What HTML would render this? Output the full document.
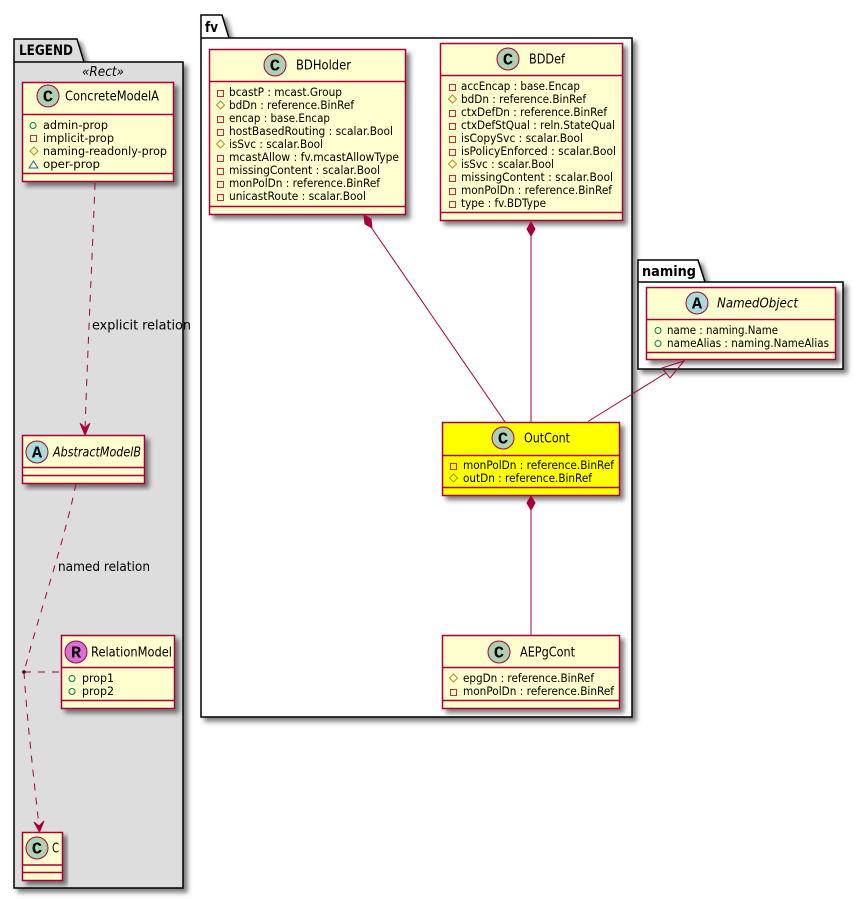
<!DOCTYPE html>
<html><head><meta charset="utf-8"><style>
html,body{margin:0;padding:0;background:#fff}
svg{display:block}
text{font-family:"DejaVu Sans","Liberation Sans",sans-serif;fill:#000}
.m{font-size:11.2px}
.t{font-size:13px}
.l{font-size:13px}
.i{font-style:italic}
.p{font-size:14px;font-weight:bold}
.c{font-size:17px;font-weight:bold;font-family:"Liberation Mono",monospace}
.b{fill:#FEFECE;stroke:#A80036;stroke-width:1.5}
.s{stroke:#A80036;stroke-width:1.5;fill:none}
.k{fill:#fff;stroke:#000;stroke-width:1.5}
.sq{fill:none;stroke:#C82930;stroke-width:1}
.di{fill:none;stroke:#B38D22;stroke-width:1}
.ci{fill:none;stroke:#038048;stroke-width:1}
.tr{fill:none;stroke:#1963A0;stroke-width:1}
.lk{stroke:#A80036;stroke-width:1;fill:none}
.da{stroke-dasharray:7 7}
.ico{stroke:#A80036;stroke-width:1}
</style></head><body>
<svg width="865" height="899" viewBox="0 0 865 899" xmlns="http://www.w3.org/2000/svg">
<defs><filter id="sh" x="-10%" y="-10%" width="125%" height="125%"><feDropShadow dx="4" dy="4" stdDeviation="2.5" flood-color="#000" flood-opacity=".5"/></filter></defs>

<!-- LEGEND package -->
<g filter="url(#sh)"><path d="M14 62V39H77L84 62H183V888H14Z" fill="#DDDDDD" stroke="#000" stroke-width="1.5"/></g>
<path d="M14 62H84" stroke="#000" stroke-width="1.5" fill="none"/>
<text class="p" x="19" y="55" textLength="54" lengthAdjust="spacingAndGlyphs">LEGEND</text>
<text class="t i" x="82" y="76" textLength="42" lengthAdjust="spacingAndGlyphs">«Rect»</text>

<!-- fv package -->
<g filter="url(#sh)"><path d="M201 38V15H222L229 38H632V717H201Z" class="k"/></g>
<path d="M201 38H229" stroke="#000" stroke-width="1.5"/>
<text class="p" x="205" y="32" textLength="13" lengthAdjust="spacingAndGlyphs">fv</text>

<!-- naming package -->
<g filter="url(#sh)"><path d="M638 282V260H698L705 282H843V369H638Z" class="k"/></g>
<path d="M638 282H705" stroke="#000" stroke-width="1.5"/>
<text class="p" x="642" y="276" textLength="54" lengthAdjust="spacingAndGlyphs">naming</text>

<!-- ConcreteModelA -->
<g filter="url(#sh)"><rect class="b" x="22.500" y="82.500" width="151" height="99"/></g>
<path class="s" d="M22 114.500H174M22 173.500H174"/>
<circle cx="48" cy="96" r="11" fill="#ADD1B2" class="ico"/><text class="c" x="48" y="101.500" text-anchor="middle">C</text>
<text class="t" x="65" y="100.500" textLength="94" lengthAdjust="spacingAndGlyphs">ConcreteModelA</text>
<circle class="ci" cx="33" cy="125.500" r="3"/><text class="m" x="43" y="129" textLength="65" lengthAdjust="spacingAndGlyphs">admin-prop</text>
<rect class="sq" x="30.500" y="135.500" width="6" height="6"/><text class="m" x="43" y="142" textLength="71" lengthAdjust="spacingAndGlyphs">implicit-prop</text>
<path class="di" d="M34 147L38 151L34 155L30 151Z"/><text class="m" x="43" y="155" textLength="124" lengthAdjust="spacingAndGlyphs">naming-readonly-prop</text>
<path class="tr" d="M33.500 161L38 168H29Z"/><text class="m" x="43" y="168" textLength="57" lengthAdjust="spacingAndGlyphs">oper-prop</text>

<!-- AbstractModelB -->
<g filter="url(#sh)"><rect class="b" x="22.500" y="435.500" width="122" height="48"/></g>
<path class="s" d="M22 467.500H145M22 475.500H145"/>
<circle cx="37" cy="452" r="11" fill="#A9DCDF" class="ico"/><text class="c" x="37" y="457.500" text-anchor="middle">A</text>
<text class="t i" x="53" y="456.500" textLength="88" lengthAdjust="spacingAndGlyphs">AbstractModelB</text>

<!-- RelationModel -->
<g filter="url(#sh)"><rect class="b" x="61.500" y="635.500" width="113" height="73"/></g>
<path class="s" d="M61 667.500H175M61 700.500H175"/>
<circle cx="76" cy="652" r="11" fill="#DA70D6" class="ico"/><text class="c" x="76" y="657.500" text-anchor="middle">R</text>
<text class="t" x="91" y="656.500" textLength="81" lengthAdjust="spacingAndGlyphs">RelationModel</text>
<circle class="ci" cx="72" cy="678.500" r="3"/><text class="m" x="82" y="682" textLength="32" lengthAdjust="spacingAndGlyphs">prop1</text>
<circle class="ci" cx="72" cy="691.500" r="3"/><text class="m" x="82" y="695" textLength="32" lengthAdjust="spacingAndGlyphs">prop2</text>

<!-- C -->
<g filter="url(#sh)"><rect class="b" x="22.500" y="832.500" width="40" height="48"/></g>
<path class="s" d="M22 865H63M22 872.500H63"/>
<circle cx="37" cy="848" r="11" fill="#ADD1B2" class="ico"/><text class="c" x="37" y="853.500" text-anchor="middle">C</text>
<text class="t" x="52" y="852.500" textLength="7" lengthAdjust="spacingAndGlyphs">C</text>

<!-- BDHolder -->
<g filter="url(#sh)"><rect class="b" x="209.500" y="49.500" width="196" height="165"/></g>
<path class="s" d="M209 81.500H406M209 206.500H406"/>
<circle cx="275" cy="65" r="11" fill="#ADD1B2" class="ico"/><text class="c" x="275" y="70.500" text-anchor="middle">C</text>
<text class="t" x="296" y="69.500" textLength="55" lengthAdjust="spacingAndGlyphs">BDHolder</text>
<rect class="sq" x="217.500" y="90.500" width="6" height="6"/><text class="m" x="229" y="96" textLength="113" lengthAdjust="spacingAndGlyphs">bcastP : mcast.Group</text>
<path class="di" d="M220.500 101L224.500 105L220.500 109L216.500 105Z"/><text class="m" x="229" y="109" textLength="125" lengthAdjust="spacingAndGlyphs">bdDn : reference.BinRef</text>
<rect class="sq" x="217.500" y="116.500" width="6" height="6"/><text class="m" x="229" y="122" textLength="101" lengthAdjust="spacingAndGlyphs">encap : base.Encap</text>
<rect class="sq" x="217.500" y="129.500" width="6" height="6"/><text class="m" x="229" y="135" textLength="164" lengthAdjust="spacingAndGlyphs">hostBasedRouting : scalar.Bool</text>
<path class="di" d="M220.500 140L224.500 144L220.500 148L216.500 144Z"/><text class="m" x="229" y="148" textLength="94" lengthAdjust="spacingAndGlyphs">isSvc : scalar.Bool</text>
<rect class="sq" x="217.500" y="155.500" width="6" height="6"/><text class="m" x="229" y="161" textLength="170" lengthAdjust="spacingAndGlyphs">mcastAllow : fv.mcastAllowType</text>
<rect class="sq" x="217.500" y="168.500" width="6" height="6"/><text class="m" x="229" y="174" textLength="151" lengthAdjust="spacingAndGlyphs">missingContent : scalar.Bool</text>
<rect class="sq" x="217.500" y="181.500" width="6" height="6"/><text class="m" x="229" y="187" textLength="151" lengthAdjust="spacingAndGlyphs">monPolDn : reference.BinRef</text>
<rect class="sq" x="217.500" y="194.500" width="6" height="6"/><text class="m" x="229" y="200" textLength="137" lengthAdjust="spacingAndGlyphs">unicastRoute : scalar.Bool</text>

<!-- BDDef -->
<g filter="url(#sh)"><rect class="b" x="440.500" y="43.500" width="182" height="177"/></g>
<path class="s" d="M440 75.500H623M440 212.500H623"/>
<circle cx="508" cy="59" r="11" fill="#ADD1B2" class="ico"/><text class="c" x="508" y="64.500" text-anchor="middle">C</text>
<text class="t" x="529" y="63.500" textLength="36" lengthAdjust="spacingAndGlyphs">BDDef</text>
<rect class="sq" x="449.500" y="84.500" width="6" height="6"/><text class="m" x="461" y="90" textLength="119" lengthAdjust="spacingAndGlyphs">accEncap : base.Encap</text>
<path class="di" d="M452.500 95L456.500 99L452.500 103L448.500 99Z"/><text class="m" x="461" y="103" textLength="125" lengthAdjust="spacingAndGlyphs">bdDn : reference.BinRef</text>
<rect class="sq" x="449.500" y="110.500" width="6" height="6"/><text class="m" x="461" y="116" textLength="146" lengthAdjust="spacingAndGlyphs">ctxDefDn : reference.BinRef</text>
<rect class="sq" x="449.500" y="123.500" width="6" height="6"/><text class="m" x="461" y="129" textLength="154" lengthAdjust="spacingAndGlyphs">ctxDefStQual : reln.StateQual</text>
<rect class="sq" x="449.500" y="136.500" width="6" height="6"/><text class="m" x="461" y="142" textLength="122" lengthAdjust="spacingAndGlyphs">isCopySvc : scalar.Bool</text>
<rect class="sq" x="449.500" y="149.500" width="6" height="6"/><text class="m" x="461" y="155" textLength="155" lengthAdjust="spacingAndGlyphs">isPolicyEnforced : scalar.Bool</text>
<path class="di" d="M452.500 160L456.500 164L452.500 168L448.500 164Z"/><text class="m" x="461" y="168" textLength="93" lengthAdjust="spacingAndGlyphs">isSvc : scalar.Bool</text>
<rect class="sq" x="449.500" y="175.500" width="6" height="6"/><text class="m" x="461" y="181" textLength="152" lengthAdjust="spacingAndGlyphs">missingContent : scalar.Bool</text>
<rect class="sq" x="449.500" y="188.500" width="6" height="6"/><text class="m" x="461" y="194" textLength="151" lengthAdjust="spacingAndGlyphs">monPolDn : reference.BinRef</text>
<rect class="sq" x="449.500" y="201.500" width="6" height="6"/><text class="m" x="461" y="207" textLength="85" lengthAdjust="spacingAndGlyphs">type : fv.BDType</text>

<!-- OutCont -->
<g filter="url(#sh)"><rect x="442.500" y="422.500" width="177" height="73" fill="#FFFF00" stroke="#A80036" stroke-width="1.5"/></g>
<path class="s" d="M442 455.500H620M442 487.500H620"/>
<circle cx="503" cy="438" r="11" fill="#ADD1B2" class="ico"/><text class="c" x="503" y="443.500" text-anchor="middle">C</text>
<text class="t" x="524" y="442.500" textLength="46" lengthAdjust="spacingAndGlyphs">OutCont</text>
<rect class="sq" x="450.500" y="463.500" width="6" height="6"/><text class="m" x="463" y="469" textLength="151" lengthAdjust="spacingAndGlyphs">monPolDn : reference.BinRef</text>
<path class="di" d="M453.500 474L457.500 478L453.500 482L449.500 478Z"/><text class="m" x="463" y="482" textLength="129" lengthAdjust="spacingAndGlyphs">outDn : reference.BinRef</text>

<!-- AEPgCont -->
<g filter="url(#sh)"><rect class="b" x="442.500" y="635.500" width="177" height="73"/></g>
<path class="s" d="M442 667.500H620M442 700.500H620"/>
<circle cx="499" cy="652" r="11" fill="#ADD1B2" class="ico"/><text class="c" x="499" y="657.500" text-anchor="middle">C</text>
<text class="t" x="520" y="656.500" textLength="55" lengthAdjust="spacingAndGlyphs">AEPgCont</text>
<path class="di" d="M453.500 674L457.500 678L453.500 682L449.500 678Z"/><text class="m" x="463" y="682" textLength="131" lengthAdjust="spacingAndGlyphs">epgDn : reference.BinRef</text>
<rect class="sq" x="450.500" y="689.500" width="6" height="6"/><text class="m" x="463" y="695" textLength="151" lengthAdjust="spacingAndGlyphs">monPolDn : reference.BinRef</text>

<!-- NamedObject -->
<g filter="url(#sh)"><rect class="b" x="646.500" y="287.500" width="189" height="72"/></g>
<path class="s" d="M646 319.500H836M646 352.500H836"/>
<circle cx="697" cy="303" r="11" fill="#A9DCDF" class="ico"/><text class="c" x="697" y="308.500" text-anchor="middle">A</text>
<text class="t i" x="717" y="307.500" textLength="81" lengthAdjust="spacingAndGlyphs">NamedObject</text>
<circle class="ci" cx="658" cy="330.500" r="3"/><text class="m" x="667" y="334" textLength="111" lengthAdjust="spacingAndGlyphs">name : naming.Name</text>
<circle class="ci" cx="658" cy="343.500" r="3"/><text class="m" x="667" y="347" textLength="162" lengthAdjust="spacingAndGlyphs">nameAlias : naming.NameAlias</text>

<!-- Links -->
<path class="lk da" d="M95 183C93 240 88 340 85 430"/>
<path d="M85 435L81 424L85 428L89 424Z" fill="#A80036" stroke="#A80036"/>
<path class="lk" d="M85 435L80 423M85 435L90 423"/>
<text class="l" x="92" y="329.500" textLength="99" lengthAdjust="spacingAndGlyphs">explicit relation</text>
<path class="lk da" d="M76 484C62 550 40 610 24 672"/>
<text class="l" x="58" y="571" textLength="92" lengthAdjust="spacingAndGlyphs">named relation</text>
<circle cx="24" cy="672" r="1.800" fill="#000"/>
<path class="lk da" d="M24 672H61"/>
<path class="lk da" d="M24 672C27 720 34 780 39 826"/>
<path d="M39.500 832L34 822L39 826L44 821Z" fill="#A80036" stroke="#A80036"/>

<path class="lk" d="M371 227L505 422"/>
<path d="M364 215L371 219L372 228L365 224Z" fill="#A80036" stroke="#A80036"/>
<path class="lk" d="M531 236V422"/>
<path d="M531 222L535 229L531 236L527 229Z" fill="#A80036" stroke="#A80036"/>
<path class="lk" d="M531 510V635"/>
<path d="M531 496L535 503L531 510L527 503Z" fill="#A80036" stroke="#A80036"/>
<path class="lk" d="M588 421.500L666 373"/>
<path d="M684 361L662 368L670 378Z" fill="none" stroke="#A80036"/>
</svg>
</body></html>
